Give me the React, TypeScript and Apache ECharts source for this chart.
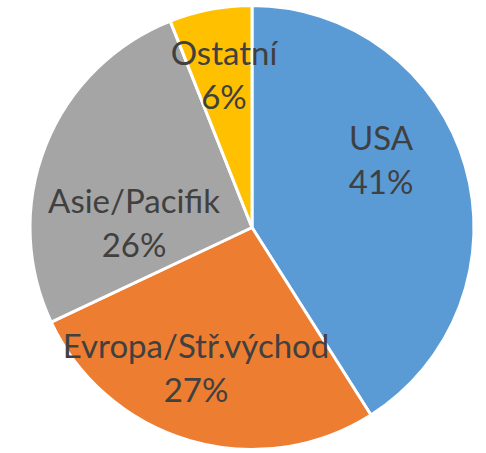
import React, { useEffect, useRef } from "react";
import * as echarts from "echarts";

const categories = ["USA", "Evropa/Stř.východ", "Asie/Pacifik", "Ostatní"];
const shares = [41, 27, 26, 6];
const colors = ["#5B9BD5", "#ED7D31", "#A5A5A5", "#FFC000"];
// label centres (px) as placed in the reference
const labelAnchors = [
  [381, 159],
  [196, 367],
  [134, 222],
  [224, 74],
];

export default function App() {
  const ref = useRef<HTMLDivElement>(null);
  useEffect(() => {
    if (!ref.current) return;
    const chart = echarts.init(ref.current, undefined, { renderer: "svg" });
    chart.setOption({
      animation: false,
      backgroundColor: "#ffffff",
      series: [
        {
          type: "pie",
          center: [252, 227.5],
          radius: [0, 222],
          startAngle: 90,
          clockwise: true,
          data: categories.map((name, i) => ({
            name,
            value: shares[i],
            itemStyle: { color: colors[i] },
          })),
          itemStyle: { borderColor: "#ffffff", borderWidth: 3 },
          label: {
            show: true,
            position: "inside",
            formatter: "{b}\n{c}%",
            color: "#404040",
            fontFamily: "Lato",
            fontSize: 33,
            lineHeight: 44,
            align: "center",
          },
          labelLine: { show: false },
          labelLayout: (params: any) => {
            const p = labelAnchors[params.dataIndex];
            return { x: p[0], y: p[1], align: "center", verticalAlign: "middle" };
          },
          emphasis: { disabled: true },
        },
      ],
    });
    return () => chart.dispose();
  }, []);
  return (
    <div
      ref={ref}
      style={{ position: "fixed", left: 0, top: 0, width: 486, height: 453 }}
    />
  );
}
